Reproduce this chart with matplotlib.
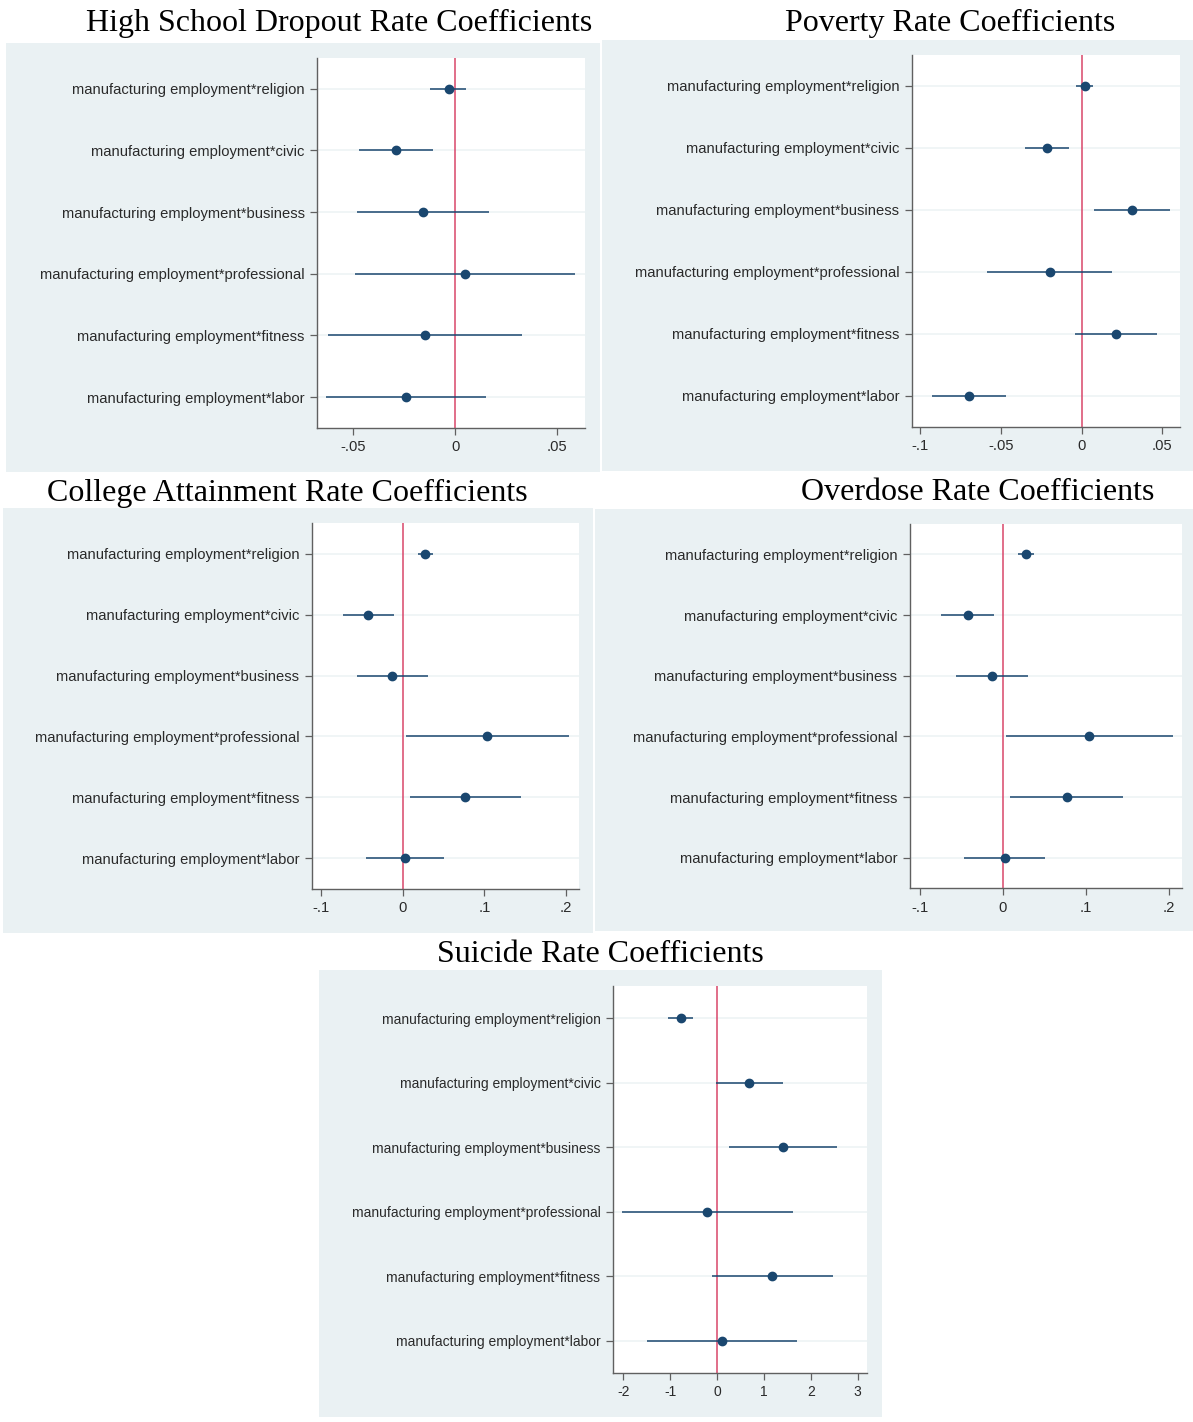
import matplotlib
matplotlib.use("Agg")
import matplotlib.pyplot as plt
from matplotlib.patches import Rectangle

W, H = 1193, 1422

terms = ["manufacturing employment*religion", "manufacturing employment*civic",
         "manufacturing employment*business", "manufacturing employment*professional",
         "manufacturing employment*fitness", "manufacturing employment*labor"]

# High school dropout
hs_coef = [-0.0032, -0.0289, -0.0156, 0.0049, -0.0148, -0.0240]
hs_lo = [-0.0122, -0.0473, -0.0482, -0.0492, -0.0625, -0.0636]
hs_hi = [0.0056, -0.0107, 0.0169, 0.0591, 0.0328, 0.0154]

# Poverty
pov_coef = [0.0019, -0.0214, 0.0312, -0.0197, 0.0214, -0.0697]
pov_lo = [-0.0035, -0.0347, 0.0077, -0.0584, -0.0040, -0.0924]
pov_hi = [0.0073, -0.0080, 0.0549, 0.0190, 0.0467, -0.0469]

# College attainment
col_coef = [0.0277, -0.0422, -0.0127, 0.1037, 0.0765, 0.0023]
col_lo = [0.0188, -0.0736, -0.0558, 0.0038, 0.0094, -0.0455]
col_hi = [0.0375, -0.0103, 0.0305, 0.2040, 0.1445, 0.0507]

# Overdose
od_coef = [0.0279, -0.0416, -0.0133, 0.1038, 0.0768, 0.0023]
od_lo = [0.0187, -0.0741, -0.0558, 0.0041, 0.0091, -0.0462]
od_hi = [0.0375, -0.0101, 0.0302, 0.2044, 0.1445, 0.0512]

# Suicide
sui_coef = [-0.774, 0.681, 1.401, -0.209, 1.176, 0.108]
sui_lo = [-1.045, -0.031, 0.248, -2.028, -0.116, -1.502]
sui_hi = [-0.511, 1.401, 2.562, 1.618, 2.477, 1.711]

BG = "#eaf1f3"
NAVY = "#1a476f"
RED = "#d9466a"

plt.rcParams["font.family"] = ["Liberation Sans", "DejaVu Sans"]

fig = plt.figure(figsize=(W / 100, H / 100), dpi=100)


def box(x0, y0, x1, y1, color):
    fig.patches.append(Rectangle((x0 / W, 1 - y1 / H), (x1 - x0) / W, (y1 - y0) / H,
                                 transform=fig.transFigure, facecolor=color,
                                 edgecolor="none", zorder=-1))


def panel(title, tx, ty, bg, area, coef, lo, hi, xlim, ticks, ticklabels, fs=10.6):
    box(*bg, BG)
    fig.text(tx / W, 1 - ty / H, title, ha="center", va="center",
             family="Liberation Serif", fontsize=23, color="black")
    x0, y0, x1, y1 = area
    ax = fig.add_axes([x0 / W, 1 - y1 / H, (x1 - x0) / W, (y1 - y0) / H])
    ax.set_facecolor("white")
    pos = list(range(1, len(terms) + 1))
    for p in pos:
        ax.axhline(p, color="#edf3f5", lw=1.2, zorder=1)
    ax.axvline(0, color=RED, lw=1.1, zorder=2)
    ax.hlines(pos, lo, hi, color=NAVY, lw=1.1, zorder=3)
    ax.plot(coef, pos, "o", color=NAVY, ms=6, zorder=4)
    ax.set_ylim(6.5, 0.5)
    ax.set_xlim(*xlim)
    ax.set_yticks(pos)
    ax.set_yticklabels(terms)
    ax.set_xticks(ticks)
    ax.set_xticklabels(ticklabels)
    for s in ["top", "right"]:
        ax.spines[s].set_visible(False)
    for s in ["left", "bottom"]:
        ax.spines[s].set_color("#606060")
        ax.spines[s].set_linewidth(1.0)
    ax.tick_params(axis="both", colors="#606060", labelcolor="#2a2a2a",
                   labelsize=fs, length=5, width=0.9, pad=4)
    return ax


panel("High School Dropout Rate Coefficients", 339, 23, (6, 43, 600, 472),
      (317, 58, 585, 428), hs_coef, hs_lo, hs_hi, (-0.0678, 0.0638),
      [-0.05, 0, 0.05], ["-.05", "0", ".05"])
panel("Poverty Rate Coefficients", 950, 23, (602, 40, 1193, 471),
      (912, 55, 1180, 427), pov_coef, pov_lo, pov_hi, (-0.105, 0.061),
      [-0.1, -0.05, 0, 0.05], ["-.1", "-.05", "0", ".05"])
panel("College Attainment Rate Coefficients", 287, 493, (3, 508, 593, 933),
      (312, 523, 579, 889), col_coef, col_lo, col_hi, (-0.111, 0.2158),
      [-0.1, 0, 0.1, 0.2], ["-.1", "0", ".1", ".2"])
panel("Overdose Rate Coefficients", 978, 493, (595, 509, 1193, 931),
      (910, 524, 1182, 888), od_coef, od_lo, od_hi, (-0.1116, 0.2154),
      [-0.1, 0, 0.1, 0.2], ["-.1", "0", ".1", ".2"])
panel("Suicide Rate Coefficients", 600, 954, (319, 970, 882, 1417),
      (613, 986, 867, 1373), sui_coef, sui_lo, sui_hi, (-2.221, 3.197),
      [-2, -1, 0, 1, 2, 3], ["-2", "-1", "0", "1", "2", "3"], fs=10.0)

fig.savefig("out.png", dpi=100)
